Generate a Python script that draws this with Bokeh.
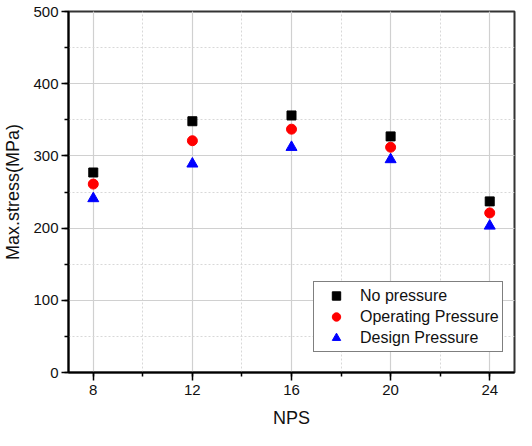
from bokeh.plotting import figure
from bokeh.models import SingleIntervalTicker, Range1d, Legend, LegendItem
from bokeh.embed import file_html
from bokeh.resources import INLINE

nps = [8, 12, 16, 20, 24]
no_pressure = [277, 348, 356, 327, 237]
operating_pressure = [261, 321, 337, 312, 221]
design_pressure = [241, 289, 312, 295, 203]

series_names = ["No pressure", "Operating Pressure", "Design Pressure"]
x_label = "NPS"
y_label = "Max.stress(MPa)"

FONT = "Liberation Sans"

p = figure(width=516, height=430, output_backend="svg", toolbar_location=None,
           x_range=Range1d(7, 25), y_range=Range1d(0, 500),
           min_border_left=68, min_border_right=2, min_border_top=11, min_border_bottom=58)

p.outline_line_color = "#333333"
p.outline_line_width = 2

for ax, interval in ((p.xaxis[0], 4), (p.yaxis[0], 100)):
    ax.ticker = SingleIntervalTicker(interval=interval, num_minor_ticks=2)
    ax.axis_line_color = "black"
    ax.axis_line_width = 2
    ax.major_tick_line_color = "black"
    ax.major_tick_line_width = 1.5
    ax.minor_tick_line_color = "black"
    ax.minor_tick_line_width = 1.5
    ax.major_tick_in = 0
    ax.minor_tick_in = 0
    ax.major_label_text_font = FONT
    ax.major_label_text_font_size = "15px"
    ax.major_label_text_color = "#111111"
    ax.axis_label_text_font = FONT
    ax.axis_label_text_font_style = "normal"
    ax.axis_label_text_font_size = "18px"
    ax.axis_label_text_color = "#111111"

p.xaxis.major_tick_out = 8
p.xaxis.minor_tick_out = 4
p.yaxis.major_tick_out = 7
p.yaxis.minor_tick_out = 4
p.xaxis.major_label_standoff = 4
p.yaxis.major_label_standoff = 3
p.xaxis.axis_label = x_label
p.yaxis.axis_label = y_label
p.xaxis.axis_label_standoff = 10
p.yaxis.axis_label_standoff = 7

for g in (p.xgrid[0], p.ygrid[0]):
    g.grid_line_color = "#d0d0d0"
    g.grid_line_width = 1.2
    g.minor_grid_line_color = "#d8d8d8"
    g.minor_grid_line_dash = "2 2"
    g.minor_grid_line_width = 1

r1 = p.scatter(nps, no_pressure, marker="square", size=9, color="black")
r2 = p.scatter(nps, operating_pressure, marker="circle", size=10, color="#ff0000")
r3 = p.scatter(nps, design_pressure, marker="triangle", size=11, color="#0000ff")

legend = Legend(items=[LegendItem(label=series_names[0], renderers=[r1]),
                       LegendItem(label=series_names[1], renderers=[r2]),
                       LegendItem(label=series_names[2], renderers=[r3])],
                location=(245, 20))
legend.border_line_color = "black"
legend.border_line_width = 1
legend.background_fill_alpha = 1
legend.padding = 3
legend.margin = 0
legend.spacing = 0
legend.glyph_width = 38
legend.glyph_height = 21
legend.label_height = 21
legend.label_standoff = 5
legend.label_text_font = FONT
legend.label_text_font_size = "16px"
legend.label_text_color = "#111111"
p.add_layout(legend, "center")

open("out.html", "w").write(file_html(p, INLINE))
